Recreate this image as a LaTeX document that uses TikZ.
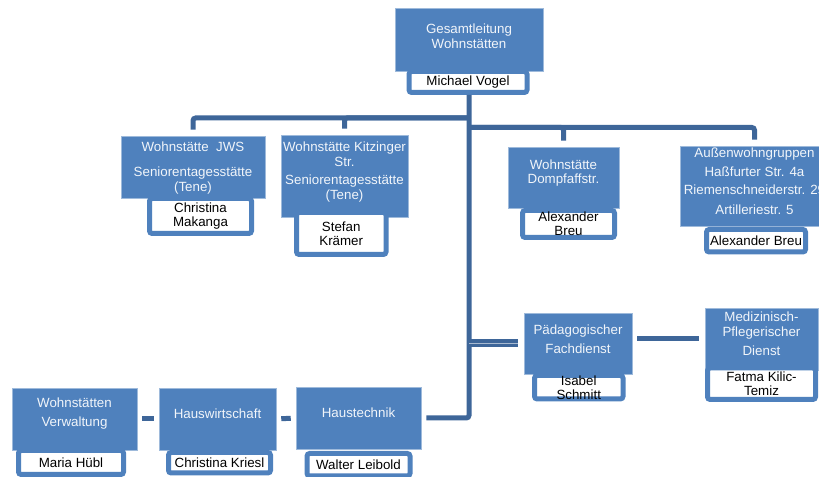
\documentclass[tikz,border=0pt]{standalone}
\usepackage{fontspec}
\setmainfont{Liberation Sans}
\usetikzlibrary{fit}
\definecolor{kastenblau}{HTML}{4F81BD}
\definecolor{linienblau}{HTML}{3E6699}

\begin{document}
\begin{tikzpicture}[x=0.75pt,y=-0.75pt,
  kasten/.style={fill=kastenblau,draw=white!45!kastenblau,line width=0.4pt,inner sep=0pt},
  kastentext/.style={text=white!92!kastenblau,align=center,font=\fontsize{10}{11}\selectfont},
  namenfeld/.style={fill=white,draw=kastenblau,line width=3.75pt,rounded corners=2pt,inner sep=0pt},
  namentext/.style={text=black,align=center,font=\fontsize{10}{10.5}\selectfont},
  linie/.style={draw=linienblau,line width=3.75pt,rounded corners=2pt},
  doppellinie/.style={draw=linienblau,line width=2.7pt,double=linienblau!45!white,double distance=0.6pt}]

   \useasboundingbox (0,0) rectangle (819,477);

   % Leitung
   \node[kasten,fit={(395,8)(543,71)}] (gesamt) {};
   \node[namenfeld,fit={(409,71.5)(527,92.5)}] (gesamt-name) {};
   \node[kastentext] (gesamt-text) at (469,36) {Gesamtleitung\\Wohnstätten};
   \node[namentext] (gesamt-nametext) at (gesamt-name.center) {Michael Vogel};

   % Wohnstaetten
   \node[kasten,fit={(121,136)(265,198)}] (jws) {};
   \node[namenfeld,fit={(149.5,198.5)(251.5,233.5)}] (jws-name) {};
   \node[kastentext] (jws-text) at (193,168) {Wohnstätte~~JWS\\[7.5pt]Seniorentagesstätte\\(Tene)};
   \node[namentext] (jws-nametext) at (jws-name.center) {Christina\\Makanga};

   \node[kasten,fit={(281,135)(408,217)}] (kitz) {};
   \node[namenfeld,fit={(296.5,212.5)(386,254.5)}] (kitz-name) {};
   \node[kastentext] (kitz-text) at (344.5,172) {Wohnstätte Kitzinger\\Str.\\[2.5pt]Seniorentagesstätte\\(Tene)};
   \node[namentext] (kitz-nametext) at (kitz-name.center) {Stefan\\Krämer};

   \node[kasten,fit={(508,147)(619,208)}] (dompf) {};
   \node[namenfeld,fit={(522.5,210.5)(614.5,237.5)}] (dompf-name) {};
   \node[kastentext] (dompf-text) at (563.5,173) {Wohnstätte\\Dompfaffstr.};
   \node[namentext] (dompf-nametext) at (dompf-name.center) {Alexander\\Breu};

   \node[kasten,fit={(680,146)(829,226)}] (aussen) {};
   \node[namenfeld,fit={(706.5,229.5)(805.5,252)}] (aussen-name) {};
   \node[kastentext] (aussen-text) at (754.5,181.5) {Außenwohngruppen\\[3pt]Haßfurter Str. 4a\\[3pt]Riemenschneiderstr. 29\\[4pt]Artilleriestr. 5};
   \node[namentext] (aussen-nametext) at (aussen-name.center) {Alexander Breu};

   % Fachdienste
   \node[kasten,fit={(524,313)(632,374)}] (paed) {};
   \node[namenfeld,fit={(534.5,375.5)(623,399)}] (paed-name) {};
   \node[kastentext] (paed-text) at (578,339.5) {Pädagogischer\\[3.25pt]Fachdienst};
   \node[namentext] (paed-nametext) at (paed-name.center) {Isabel\\Schmitt};

   \node[kasten,fit={(705,308)(818,370)}] (med) {};
   \node[namenfeld,fit={(707.5,368)(815.5,399.5)}] (med-name) {};
   \node[kastentext] (med-text) at (761.5,334) {Medizinisch-\\Pflegerischer\\[3.25pt]Dienst};
   \node[namentext] (med-nametext) at (med-name.center) {Fatma Kilic-\\Temiz};

   % Verwaltung und Technik
   \node[kasten,fit={(12,388)(137,450)}] (verw) {};
   \node[namenfeld,fit={(18.5,450.5)(123.5,474.5)}] (verw-name) {};
   \node[kastentext] (verw-text) at (74.5,413.5) {Wohnstätten\\[3.25pt]Verwaltung};
   \node[namentext] (verw-nametext) at (verw-name.center) {Maria Hübl};

   \node[kasten,fit={(159,388)(276,450)}] (hausw) {};
   \node[namenfeld,fit={(168.5,452.5)(270.5,473)}] (hausw-name) {};
   \node[kastentext] (hausw-text) at (217.5,414) {Hauswirtschaft};
   \node[namentext] (hausw-nametext) at (hausw-name.center) {Christina Kriesl};

   \node[kasten,fit={(296,387)(421,449)}] (technik) {};
   \node[namenfeld,fit={(307,453.5)(410,476)}] (technik-name) {};
   \node[kastentext] (technik-text) at (358.5,413) {Haustechnik};
   \node[namentext] (technik-nametext) at (technik-name.center) {Walter Leibold};

   % Verbindungen
   \coordinate (abzweig-links) at (469,118);
   \coordinate (abzweig-rechts) at (469,127.5);

   \draw[linie,shorten >=3.75pt] (gesamt-name.south -| gesamt.south) |- (technik.east);
   \draw[linie,shorten >=4.5pt] (abzweig-links) -| (jws.north);
   \draw[linie,shorten >=4.5pt] (abzweig-links) -| (kitz.north);
   \draw[linie,shorten >=4.5pt] (abzweig-rechts) -| (dompf.north);
   \draw[linie,shorten >=4.5pt] (abzweig-rechts) -| (aussen.north);
   \draw[doppellinie,shorten >=4.5pt] (paed.west -| gesamt.south) -- (paed.west);
   \draw[linie,shorten <=3.75pt,shorten >=4.5pt] (paed.east |- med.west) -- (med.west);
   \draw[linie,shorten <=3.75pt,shorten >=3.75pt] (verw.east) -- (hausw.west);
   \draw[linie,shorten <=3.75pt,shorten >=3.75pt] (hausw.east) -- (technik.west);
\end{tikzpicture}
\end{document}
